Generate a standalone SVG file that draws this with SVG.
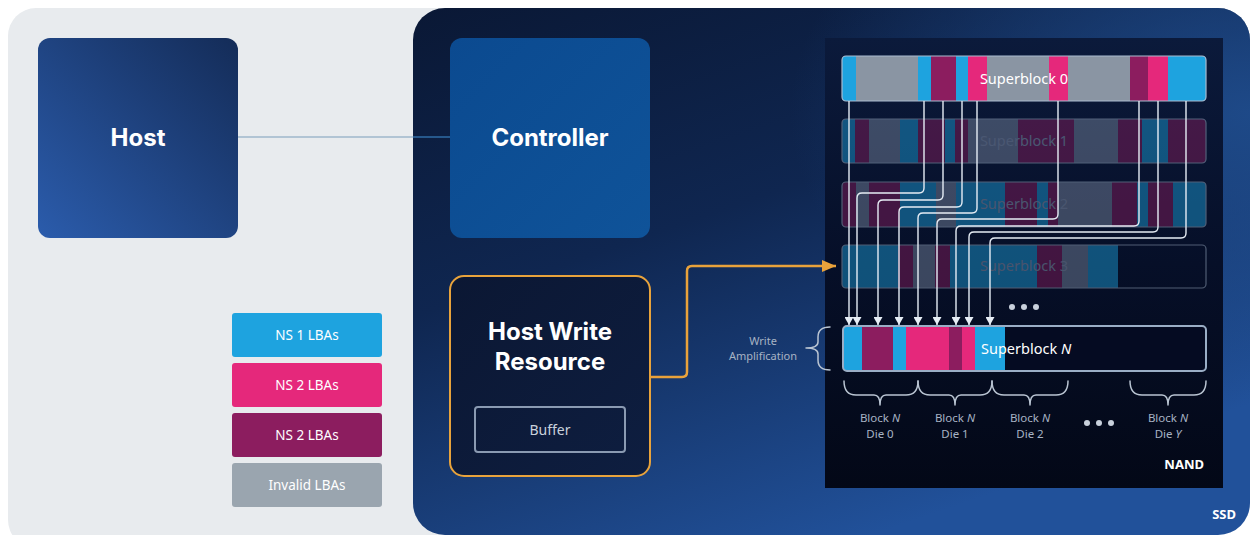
<svg xmlns="http://www.w3.org/2000/svg" width="1250" height="535" viewBox="0 0 1250 535">
  <defs>
    <style>
      .title { font-family: Inter, "Open Sans", "Liberation Sans", sans-serif; font-weight: 700; fill: #ffffff; text-anchor: middle; }
      .small { font-family: "Noto Sans", "Open Sans", "Liberation Sans", sans-serif; text-anchor: middle; }
      .legend-text { font-family: "Noto Sans", "Open Sans", "Liberation Sans", sans-serif; font-size: 13.5px; fill: #ffffff; text-anchor: middle; }
      .sb-label { font-family: "Noto Sans", "Open Sans", "Liberation Sans", sans-serif; font-size: 14.5px; fill: #ffffff; text-anchor: middle; }
      .sb-faded { fill: #9aa8c0; }
      .wire { fill: none; stroke: #e6edf5; stroke-width: 1.4; }
      .brace { fill: none; stroke: #b9c4d2; stroke-width: 1.5; stroke-linecap: round; stroke-linejoin: round; }
      .blue { fill: #1ea3df; }
      .pink { fill: #e5287b; }
      .plum { fill: #8c1d5f; }
      .grey { fill: #8a95a3; }
      .faded .grey { fill: #7d8ba3; }
    </style>
    <linearGradient id="hostGrad" x1="0" y1="1" x2="1" y2="0">
      <stop offset="0" stop-color="#2b5cac"/>
      <stop offset="1" stop-color="#142c58"/>
    </linearGradient>
    <linearGradient id="ctrlGrad" x1="0" y1="0" x2="1" y2="1">
      <stop offset="0" stop-color="#0b4a90"/>
      <stop offset="1" stop-color="#0f5399"/>
    </linearGradient>
    <linearGradient id="ssdGrad" x1="0" y1="0" x2="0.55" y2="1">
      <stop offset="0" stop-color="#0a1835"/>
      <stop offset="0.45" stop-color="#0f2650"/>
      <stop offset="1" stop-color="#21519a"/>
    </linearGradient>
    <radialGradient id="ssdGlow" cx="1" cy="0.2" r="0.55">
      <stop offset="0" stop-color="#1f4c8c" stop-opacity="0.9"/>
      <stop offset="1" stop-color="#1f4c8c" stop-opacity="0"/>
    </radialGradient>
    <linearGradient id="nandGrad" x1="0" y1="0" x2="0" y2="1">
      <stop offset="0" stop-color="#0b1a3b"/>
      <stop offset="0.5" stop-color="#060f28"/>
      <stop offset="1" stop-color="#030817"/>
    </linearGradient>
    <linearGradient id="hwrGrad" x1="0" y1="0" x2="1" y2="1">
      <stop offset="0" stop-color="#0b1733"/>
      <stop offset="1" stop-color="#0e1e40"/>
    </linearGradient>
    <clipPath id="clipSb0"><rect x="842" y="56" width="364" height="45" rx="4"/></clipPath>
    <clipPath id="clipSb1"><rect x="842" y="119" width="364" height="44" rx="4"/></clipPath>
    <clipPath id="clipSb2"><rect x="842" y="182" width="364" height="45" rx="4"/></clipPath>
    <clipPath id="clipSb3"><rect x="842" y="245" width="364" height="43" rx="4"/></clipPath>
    <clipPath id="clipSbN"><rect x="843" y="326" width="363" height="45" rx="4"/></clipPath>
    <marker id="tipWhite" viewBox="0 0 8 9" refX="8" refY="4.5" markerWidth="8" markerHeight="9" markerUnits="userSpaceOnUse" orient="auto">
      <path d="M0,0 L8,4.5 L0,9 z" fill="#e6edf5"/>
    </marker>
    <marker id="tipOrange" viewBox="0 0 14 12" refX="14" refY="6" markerWidth="14" markerHeight="12" markerUnits="userSpaceOnUse" orient="auto">
      <path d="M0,0 L14,6 L0,12 z" fill="#e9a23b"/>
    </marker>
  </defs>

  <!-- page and panels -->
  <rect x="0" y="0" width="1250" height="535" fill="#ffffff"/>
  <rect id="host-area" x="8" y="8" width="460" height="540" rx="28" fill="#e8ebee"/>
  <g id="ssd">
    <rect x="413" y="8" width="837" height="527" rx="32" fill="url(#ssdGrad)"/>
    <rect x="413" y="8" width="837" height="527" rx="32" fill="url(#ssdGlow)"/>
    <text x="1236" y="519" class="small" style="font-size:13px;font-weight:700;fill:#ffffff;text-anchor:end">SSD</text>
  </g>

  <!-- legend -->
  <g id="legend">
    <g id="legend-ns1">
      <rect x="232" y="313" width="150" height="44" rx="3" class="blue"/>
      <text x="307" y="340" class="legend-text">NS 1 LBAs</text>
    </g>
    <g id="legend-ns2">
      <rect x="232" y="363" width="150" height="44" rx="3" class="pink"/>
      <text x="307" y="390" class="legend-text">NS 2 LBAs</text>
    </g>
    <g id="legend-ns2-dark">
      <rect x="232" y="413" width="150" height="44" rx="3" class="plum"/>
      <text x="307" y="440" class="legend-text">NS 2 LBAs</text>
    </g>
    <g id="legend-invalid">
      <rect x="232" y="463" width="150" height="44" rx="3" fill="#9aa5af"/>
      <text x="307" y="490" class="legend-text">Invalid LBAs</text>
    </g>
  </g>

  <!-- NAND array -->
  <g id="nand">
    <rect x="825" y="38" width="398" height="450" fill="url(#nandGrad)"/>
    <text x="1204" y="469" class="small" style="font-size:13px;font-weight:700;fill:#ffffff;text-anchor:end">NAND</text>
  </g>

  <g id="superblock-0">
    <g clip-path="url(#clipSb0)">
      <rect x="842" y="56" width="364" height="45" class="grey"/>
      <rect x="842" y="56" width="14" height="45" class="blue"/>
      <rect x="918" y="56" width="13" height="45" class="blue"/>
      <rect x="931" y="56" width="25" height="45" class="plum"/>
      <rect x="956" y="56" width="12" height="45" class="blue"/>
      <rect x="968" y="56" width="19" height="45" class="pink"/>
      <rect x="1049" y="56" width="19" height="45" class="pink"/>
      <rect x="1130" y="56" width="18" height="45" class="plum"/>
      <rect x="1148" y="56" width="20" height="45" class="pink"/>
      <rect x="1168" y="56" width="38" height="45" class="blue"/>
    </g>
    <rect x="842" y="56" width="364" height="45" rx="4" fill="none" stroke="#a9bbd0" stroke-width="1.2"/>
    <text x="1024" y="84" class="sb-label">Superblock 0</text>
  </g>

  <g id="superblock-1" class="faded" opacity="0.45">
    <g clip-path="url(#clipSb1)">
      <rect x="842" y="119" width="364" height="44" class="grey"/>
      <rect x="842" y="119" width="13" height="44" class="blue"/>
      <rect x="855" y="119" width="14" height="44" class="plum"/>
      <rect x="900" y="119" width="18" height="44" class="blue"/>
      <rect x="918" y="119" width="27" height="44" class="plum"/>
      <rect x="945" y="119" width="10" height="44" class="blue"/>
      <rect x="955" y="119" width="13" height="44" class="plum"/>
      <rect x="1018" y="119" width="56" height="44" class="plum"/>
      <rect x="1118" y="119" width="24" height="44" class="plum"/>
      <rect x="1142" y="119" width="26" height="44" class="blue"/>
      <rect x="1168" y="119" width="38" height="44" class="plum"/>
    </g>
    <rect x="842" y="119" width="364" height="44" rx="4" fill="none" stroke="#a9bbd0" stroke-width="1.2"/>
    <text x="1024" y="146" class="sb-label sb-faded">Superblock 1</text>
  </g>

  <g id="superblock-2" class="faded" opacity="0.45">
    <g clip-path="url(#clipSb2)">
      <rect x="842" y="182" width="364" height="45" class="grey"/>
      <rect x="842" y="182" width="14" height="45" class="plum"/>
      <rect x="869" y="182" width="31" height="45" class="plum"/>
      <rect x="900" y="182" width="36" height="45" class="blue"/>
      <rect x="956" y="182" width="49" height="45" class="blue"/>
      <rect x="1005" y="182" width="32" height="45" class="plum"/>
      <rect x="1037" y="182" width="11" height="45" class="blue"/>
      <rect x="1048" y="182" width="10" height="45" class="plum"/>
      <rect x="1112" y="182" width="25" height="45" class="plum"/>
      <rect x="1137" y="182" width="11" height="45" class="blue"/>
      <rect x="1148" y="182" width="25" height="45" class="plum"/>
      <rect x="1173" y="182" width="33" height="45" class="blue"/>
    </g>
    <rect x="842" y="182" width="364" height="45" rx="4" fill="none" stroke="#a9bbd0" stroke-width="1.2"/>
    <text x="1024" y="209" class="sb-label sb-faded">Superblock 2</text>
  </g>

  <g id="superblock-3" class="faded" opacity="0.45">
    <g clip-path="url(#clipSb3)">
      <rect x="842" y="245" width="56" height="43" class="blue"/>
      <rect x="898" y="245" width="15" height="43" class="plum"/>
      <rect x="913" y="245" width="22" height="43" class="grey"/>
      <rect x="935" y="245" width="15" height="43" class="plum"/>
      <rect x="950" y="245" width="87" height="43" class="blue"/>
      <rect x="1037" y="245" width="25" height="43" class="plum"/>
      <rect x="1062" y="245" width="26" height="43" class="grey"/>
      <rect x="1088" y="245" width="30" height="43" class="blue"/>
    </g>
    <rect x="842" y="245" width="364" height="43" rx="4" fill="none" stroke="#a9bbd0" stroke-width="1.2"/>
    <text x="1024" y="271" class="sb-label sb-faded">Superblock 3</text>
  </g>

  <g id="more-superblocks" fill="#c9d1dc">
    <circle cx="1012" cy="307" r="3"/>
    <circle cx="1024" cy="307" r="3"/>
    <circle cx="1036" cy="307" r="3"/>
  </g>

  <g id="superblock-n">
    <rect x="843" y="326" width="363" height="45" rx="4" fill="#050b22"/>
    <g clip-path="url(#clipSbN)">
      <rect x="843" y="326" width="19" height="45" class="blue"/>
      <rect x="862" y="326" width="31" height="45" class="plum"/>
      <rect x="893" y="326" width="13" height="45" class="blue"/>
      <rect x="906" y="326" width="43" height="45" class="pink"/>
      <rect x="949" y="326" width="13" height="45" class="plum"/>
      <rect x="962" y="326" width="13" height="45" class="pink"/>
      <rect x="975" y="326" width="30" height="45" class="blue"/>
    </g>
    <rect x="843" y="326" width="363" height="45" rx="4" fill="none" stroke="#9aaec6" stroke-width="2"/>
    <text x="981" y="354" class="sb-label" style="text-anchor:start">Superblock <tspan font-style="italic">N</tspan></text>
  </g>

  <g id="write-amplification">
    <path class="brace" d="M830,327 Q818,327 818,337 L818,342 Q818,348 806,348 Q818,348 818,354 L818,360 Q818,370 830,370"/>
    <text x="763" y="345" class="small" style="font-size:11px;fill:#a7b3c4">Write</text>
    <text x="763" y="360" class="small" style="font-size:11px;fill:#a7b3c4">Amplification</text>
  </g>

  <g id="die-blocks">
    <path class="brace" d="M844,381 Q844,395 856,395 L874,395 Q880,395 880,405 Q880,395 886,395 L906,395 Q918,395 918,381"/>
    <path class="brace" d="M918,381 Q918,395 930,395 L949,395 Q955,395 955,405 Q955,395 961,395 L980,395 Q992,395 992,381"/>
    <path class="brace" d="M992,381 Q992,395 1004,395 L1024,395 Q1030,395 1030,405 Q1030,395 1036,395 L1056,395 Q1068,395 1068,381"/>
    <path class="brace" d="M1130,381 Q1130,395 1142,395 L1162,395 Q1168,395 1168,405 Q1168,395 1174,395 L1194,395 Q1206,395 1206,381"/>
    <g class="small" style="font-size:11.5px;fill:#a7b3c4">
      <text x="880" y="422">Block <tspan font-style="italic">N</tspan></text>
      <text x="880" y="438">Die 0</text>
      <text x="955" y="422">Block <tspan font-style="italic">N</tspan></text>
      <text x="955" y="438">Die 1</text>
      <text x="1030" y="422">Block <tspan font-style="italic">N</tspan></text>
      <text x="1030" y="438">Die 2</text>
      <text x="1168" y="422">Block <tspan font-style="italic">N</tspan></text>
      <text x="1168" y="438">Die <tspan font-style="italic">Y</tspan></text>
    </g>
    <g fill="#c9d1dc">
      <circle cx="1087" cy="423" r="3"/>
      <circle cx="1099" cy="423" r="3"/>
      <circle cx="1111" cy="423" r="3"/>
    </g>
  </g>

  <!-- main blocks -->
  <g id="host">
    <rect x="38" y="38" width="200" height="200" rx="12" fill="url(#hostGrad)"/>
    <text x="138" y="146" class="title" style="font-size:24px">Host</text>
  </g>

  <g id="controller">
    <rect x="450" y="38" width="200" height="200" rx="12" fill="url(#ctrlGrad)"/>
    <text x="550" y="146" class="title" style="font-size:24px">Controller</text>
  </g>

  <g id="host-write-resource">
    <rect x="450" y="276" width="200" height="200" rx="14" fill="url(#hwrGrad)" stroke="#e8a33c" stroke-width="2"/>
    <text x="550" y="340" class="title" style="font-size:24px">Host Write</text>
    <text x="550" y="370" class="title" style="font-size:24px">Resource</text>
    <g id="buffer">
      <rect x="475" y="407" width="150" height="45" rx="3" fill="none" stroke="#8a9ab2" stroke-width="2"/>
      <text x="550" y="435" class="small" style="font-size:14px;fill:#c9d1dc">Buffer</text>
    </g>
  </g>

  <!-- connectors -->
  <g id="connectors">
    <line x1="238" y1="137" x2="413" y2="137" stroke="#9fb7cb" stroke-width="1.5"/>
    <line x1="413" y1="137" x2="450" y2="137" stroke="#2f6ca6" stroke-width="1.5"/>
    <path d="M651,377 H682 Q687,377 687,372 V271 Q687,266 692,266 H836" fill="none" stroke="#e9a23b" stroke-width="2.5" marker-end="url(#tipOrange)"/>
    <g class="wire" marker-end="url(#tipWhite)">
      <path d="M849,101 V325"/>
      <path d="M924,101 V188 Q924,193 919,193 H862 Q857,193 857,198 V325"/>
      <path d="M943,101 V195 Q943,200 938,200 H883 Q878,200 878,205 V325"/>
      <path d="M962,101 V202 Q962,207 957,207 H904 Q899,207 899,212 V325"/>
      <path d="M977,101 V208 Q977,213 972,213 H923 Q918,213 918,218 V325"/>
      <path d="M1058,101 V214 Q1058,219 1053,219 H942 Q937,219 937,224 V325"/>
      <path d="M1139,101 V221 Q1139,226 1134,226 H961 Q956,226 956,231 V325"/>
      <path d="M1158,101 V227 Q1158,232 1153,232 H974 Q969,232 969,237 V325"/>
      <path d="M1186,101 V233 Q1186,238 1181,238 H995 Q990,238 990,243 V325"/>
    </g>
  </g>
</svg>
